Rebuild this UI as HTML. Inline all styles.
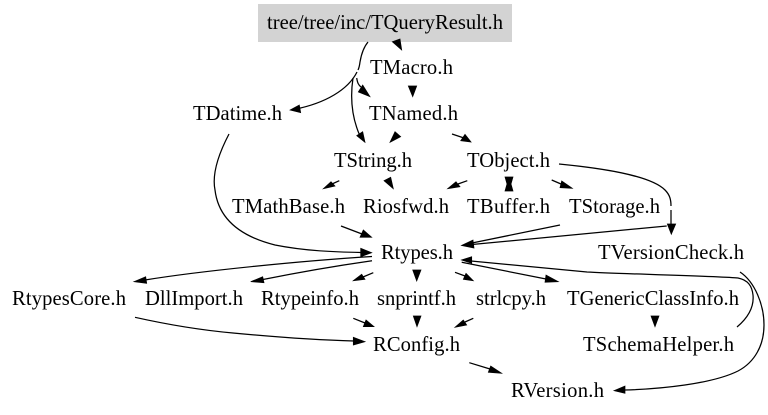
<!DOCTYPE html>
<html>
<head>
<meta charset="utf-8">
<style>
html,body{margin:0;padding:0;background:#fff;width:768px;height:415px;overflow:hidden}
svg{display:block}
text{font-family:"Liberation Serif",serif;font-size:20.6px;fill:#000}
path{fill:none;stroke:#000;stroke-width:1.25}
polygon{fill:#000;stroke:#000;stroke-width:.7}
</style>
</head>
<body>
<svg width="768" height="415" viewBox="0 0 768 415" xmlns="http://www.w3.org/2000/svg">
<rect x="258" y="4" width="254" height="38" fill="#d3d3d3"/>
<text x="267" y="29" textLength="236" lengthAdjust="spacing">tree/tree/inc/TQueryResult.h</text>
<text x="370" y="74" textLength="83" lengthAdjust="spacing">TMacro.h</text>
<text x="369" y="120" textLength="89" lengthAdjust="spacing">TNamed.h</text>
<text x="193" y="120" textLength="89" lengthAdjust="spacing">TDatime.h</text>
<text x="334" y="167" textLength="78" lengthAdjust="spacing">TString.h</text>
<text x="467" y="167" textLength="83" lengthAdjust="spacing">TObject.h</text>
<text x="232" y="213" textLength="113" lengthAdjust="spacing">TMathBase.h</text>
<text x="363" y="213" textLength="86" lengthAdjust="spacing">Riosfwd.h</text>
<text x="467" y="213" textLength="83" lengthAdjust="spacing">TBuffer.h</text>
<text x="569" y="213" textLength="91" lengthAdjust="spacing">TStorage.h</text>
<text x="381" y="259" textLength="72" lengthAdjust="spacing">Rtypes.h</text>
<text x="598" y="259" textLength="146" lengthAdjust="spacing">TVersionCheck.h</text>
<text x="12" y="305" textLength="114" lengthAdjust="spacing">RtypesCore.h</text>
<text x="145" y="305" textLength="98" lengthAdjust="spacing">DllImport.h</text>
<text x="261" y="305" textLength="98" lengthAdjust="spacing">Rtypeinfo.h</text>
<text x="377" y="305" textLength="79" lengthAdjust="spacing">snprintf.h</text>
<text x="476" y="305" textLength="70" lengthAdjust="spacing">strlcpy.h</text>
<text x="567" y="305" textLength="172" lengthAdjust="spacing">TGenericClassInfo.h</text>
<text x="583" y="351" textLength="151" lengthAdjust="spacing">TSchemaHelper.h</text>
<text x="373" y="351" textLength="87" lengthAdjust="spacing">RConfig.h</text>
<text x="511" y="397" textLength="93" lengthAdjust="spacing">RVersion.h</text>

<!-- top edges -->
<path d="M368,42 C363,48 361,56 360,62 C359.5,66 359,68 358,70"/>
<path d="M357,72 C348,90 325,103 296,109"/>
<polygon points="290,110 299.3,105 300.7,112.7"/>
<path d="M353,78 C350,98 352,118 360,136"/>
<polygon points="365,142.3 356.7,135.7 362.7,131.7"/>
<path d="M356.7,78 C357.5,83 358.5,85 361,87"/>
<polygon points="370,96.7 362.7,85 358.3,92"/>
<polygon points="401.7,50 392.3,41.7 400,39"/>
<polygon points="408.3,86 416.7,86 412.7,96.7"/>
<polygon points="390,142.3 395,131.7 400.7,136.7"/>
<path d="M452,134 L464,138"/>
<polygon points="471,142 465,134.3 460.7,140.7"/>

<!-- TObject row -->
<path d="M339.3,180.7 L332,184"/>
<polygon points="323.3,188.7 331,181.7 335,186"/>
<polygon points="393.3,188.7 384,180.7 390.7,177.3"/>
<path d="M467.3,180.7 L458,184"/>
<polygon points="447.7,188.7 456,181.7 460,186.7"/>
<polygon points="505,177 513,177 511,184 513,191 505,191 507,184"/>
<path d="M551.7,180 L561,184"/>
<polygon points="572.3,188.3 561.7,181 560,187.7"/>
<path d="M559,164 C600,168 650,175 665,190 C670,195 671,200 671,206"/>
<path d="M671,210 L671,224"/>
<polygon points="671.3,234.3 667.3,224 675.7,224"/>

<!-- into Rtypes -->
<path d="M666.7,226 L472,244.5"/>
<path d="M560,225 L472,243"/>
<polygon points="461.5,245.5 473,240 474,248"/>
<path d="M341,226 L362,234"/>
<polygon points="371.7,237.3 363.3,230 360,237.3"/>
<path d="M229,134 C218,155 212,175 215,190 C218,215 235,235 275,245 C305,251 335,252 361,252.5"/>
<polygon points="371.7,252.7 360.7,248.3 360.7,256.7"/>
<path d="M737,327 C750,316 754,305 753,295 C752,286 748,280 738,278 C720,276 620,274 587,272 L471,261"/>
<polygon points="461.5,260 471.7,256.7 471.7,263.3"/>

<!-- out of Rtypes -->
<path d="M372,256.5 C300,261 200,271 145,280"/>
<polygon points="134,281.7 145.7,276.7 146.7,283.3"/>
<path d="M372,260.7 C335,266 300,272 263,279.5"/>
<polygon points="250.7,281.7 262.7,276.7 264,282.7"/>
<path d="M373.3,272.7 L363,277"/>
<polygon points="353.3,280.7 361.7,274.3 365,279.3"/>
<polygon points="412.7,270 421,270 416.7,281"/>
<path d="M455,272.3 L465,276"/>
<polygon points="473.3,280.7 466,273.3 463.3,279.3"/>
<path d="M461.7,262.3 L546,279"/>
<polygon points="558.3,281.7 546,275 545,282.3"/>

<!-- lower edges -->
<path d="M353.3,318.3 L365,323"/>
<polygon points="374,326.7 366,320 363.3,326.7"/>
<polygon points="413.3,316 421,316 417,326.7"/>
<path d="M473.3,318.3 L465,322"/>
<polygon points="455,327.3 463.3,320 466.7,325"/>
<path d="M135,317.3 C165,324 200,330 233,333 C275,337 315,340 354,341"/>
<polygon points="365,341.7 353.3,337.3 353.3,345"/>
<polygon points="651,316 659,316 655,326.7"/>
<path d="M469.3,362.7 L490,369"/>
<polygon points="501.7,373.3 490.7,366 488.3,372.3"/>
<path d="M740,272 C755,282 764,305 764,325 C764,345 755,362 738,371 C712,384 660,389 625,390"/>
<polygon points="614,390.7 625,386 625,393.3"/>
</svg>
</body>
</html>
